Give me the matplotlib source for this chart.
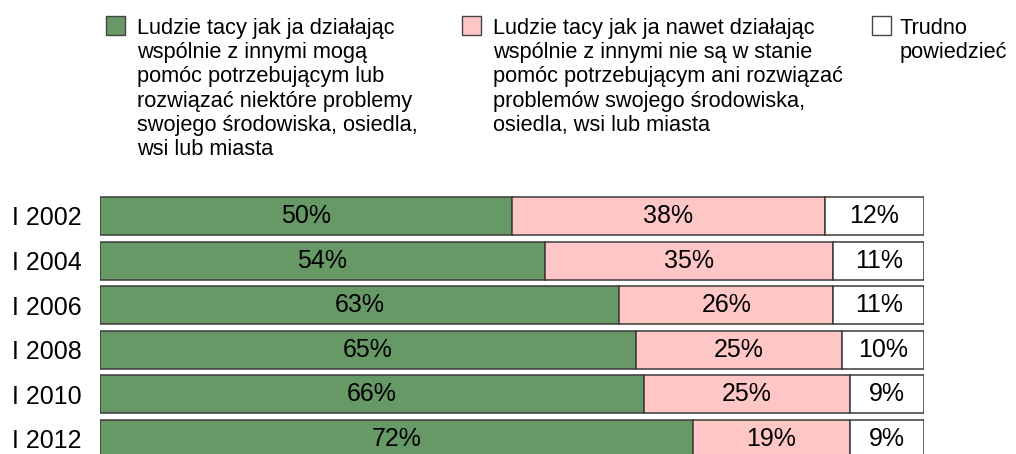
import numpy as np
import matplotlib
matplotlib.use('Agg')
from matplotlib import pyplot as plt
from matplotlib.patches import Rectangle

plt.rcParams['font.family'] = ['Liberation Sans', 'DejaVu Sans']

# Data
years = ['I 2002', 'I 2004', 'I 2006', 'I 2008', 'I 2010', 'I 2012']
can_help = [50, 54, 63, 65, 66, 72]
cannot_help = [38, 35, 26, 25, 25, 19]
hard_to_say = [12, 11, 11, 10, 9, 9]

labels = ['Ludzie tacy jak ja działając\nwspólnie z innymi mogą\npomóc potrzebującym lub\nrozwiązać niektóre problemy\nswojego środowiska, osiedla,\nwsi lub miasta',
          'Ludzie tacy jak ja nawet działając\nwspólnie z innymi nie są w stanie\npomóc potrzebującym ani rozwiązać\nproblemów swojego środowiska,\nosiedla, wsi lub miasta',
          'Trudno\npowiedzieć']
colors = ['#669966', '#FFC6C6', '#FFFFFF']

W, H = 1016, 454
fig = plt.figure(figsize=(W / 100, H / 100), dpi=100)
ax = fig.add_axes([100 / W, 0, 824 / W, 264 / H])

y = np.arange(len(years))
left = np.zeros(len(years))
for vals, col in zip([can_help, cannot_help, hard_to_say], colors):
    vals = np.array(vals)
    ax.barh(y, vals, left=left, height=0.85, color=col, edgecolor='#3a3a3a', linewidth=1.1)
    for yi, l, v in zip(y, left, vals):
        ax.text(l + v / 2, yi, f'{v}%', ha='center', va='center', fontsize=18, color='black')
    left = left + vals

ax.set_xlim(0, 100)
ax.set_ylim(5.34, -0.583)
ax.set_yticks(y)
ax.set_yticklabels(years, fontsize=18)
ax.tick_params(axis='y', length=0, pad=13)
ax.set_xticks([])
for s in ax.spines.values():
    s.set_visible(False)

# legend drawn by hand so the square sits on the first line
leg_x = [106, 462, 872]
text_off = [31, 31, 28]
for lx, off, lab, col in zip(leg_x, text_off, labels, colors):
    fig.add_artist(Rectangle((lx / W, 1 - 35 / H), 19 / W, 19 / H, transform=fig.transFigure,
                             facecolor=col, edgecolor='#444444', linewidth=1))
    fig.text((lx + off) / W, 1 - 18 / H, lab, ha='left', va='top', fontsize=15.7,
             linespacing=1.2)

plt.savefig('out.png', dpi=100)
